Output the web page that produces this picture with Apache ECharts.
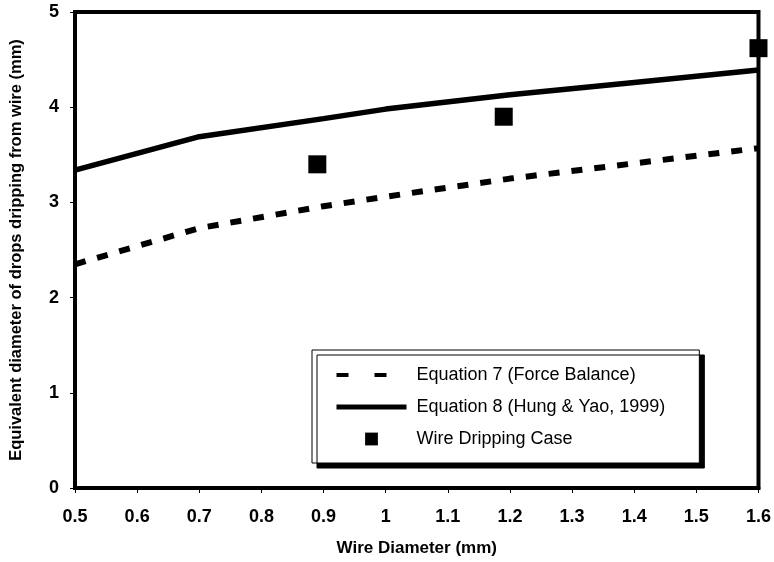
<!DOCTYPE html>
<html>
<head>
<meta charset="utf-8">
<script src="https://cdn.jsdelivr.net/npm/echarts@6/dist/echarts.min.js"></script>
<style>
  html, body { margin: 0; padding: 0; background: #fff; }
  #chart { width: 774px; height: 562px; }
</style>
</head>
<body>
<div id="chart"></div>
<script>
// wire diameter (mm) where the model curves were read
const wireD = [0.5, 0.7, 0.9, 1.0, 1.2, 1.4, 1.6];
// Equation 7 (Force Balance)
const eq7 = [2.35, 2.73, 2.96, 3.06, 3.25, 3.41, 3.57];
// Equation 8 (Hung & Yao, 1999)
const eq8 = [3.34, 3.69, 3.88, 3.98, 4.13, 4.26, 4.39];
// measured drops
const caseX = [0.89, 1.19, 1.6];
const caseY = [3.40, 3.90, 4.62];

const font = "'Liberation Sans', Arial, sans-serif";

let myChart = echarts.init(document.getElementById("chart"));
let option = {
  animation: false,
  backgroundColor: "#fff",
  grid: {
    left: 73, right: 14, top: 12, bottom: 74,
    show: true, borderColor: "#000", borderWidth: 4
  },
  legend: {
    orient: "vertical",
    left: 312, top: 350,
    padding: [16, 34, 15, 22],
    itemWidth: 70, itemHeight: 16, itemGap: 14,
    backgroundColor: "#fff",
    borderColor: "#000", borderWidth: 1,
    shadowColor: "#000", shadowBlur: 0, shadowOffsetX: 5, shadowOffsetY: 5,
    textStyle: { fontFamily: font, fontSize: 18, color: "#000", padding: [0, 0, 0, 5] },
    data: [
      { name: "Equation 7 (Force Balance)", itemStyle: { opacity: 0 }, lineStyle: { type: [12, 26], width: 4 } },
      { name: "Equation 8 (Hung & Yao, 1999)", itemStyle: { opacity: 0 }, lineStyle: { width: 5 } },
      { name: "Wire Dripping Case" }
    ]
  },
  xAxis: {
    type: "value",
    min: 0.5, max: 1.6, interval: 0.1,
    name: "Wire Diameter (mm)",
    nameLocation: "middle", nameGap: 52,
    nameTextStyle: { fontFamily: font, fontSize: 17, fontWeight: "bold", color: "#000" },
    axisLine: { lineStyle: { color: "#000", width: 4 } },
    axisTick: { show: true, length: 5, lineStyle: { color: "#000", width: 1 } },
    axisLabel: { fontFamily: font, fontSize: 18, fontWeight: "bold", color: "#000", margin: 20 },
    splitLine: { show: false }
  },
  yAxis: {
    type: "value",
    min: 0, max: 5, interval: 1,
    name: "Equivalent diameter of drops dripping from wire (mm)",
    nameLocation: "middle", nameGap: 50,
    nameTextStyle: { fontFamily: font, fontSize: 16.5, fontWeight: "bold", color: "#000" },
    axisLine: { lineStyle: { color: "#000", width: 4 } },
    axisTick: { show: true, length: 5, lineStyle: { color: "#000", width: 1 } },
    axisLabel: { fontFamily: font, fontSize: 18, fontWeight: "bold", color: "#000", margin: 16 },
    splitLine: { show: false }
  },
  series: [
    {
      name: "Equation 7 (Force Balance)",
      type: "line",
      symbol: "none",
      data: wireD.map((x, i) => [x, eq7[i]]),
      lineStyle: { color: "#000", width: 6, type: [11, 12], cap: "butt" },
      itemStyle: { color: "#000" },
      z: 3
    },
    {
      name: "Equation 8 (Hung & Yao, 1999)",
      type: "line",
      symbol: "none",
      data: wireD.map((x, i) => [x, eq8[i]]),
      lineStyle: { color: "#000", width: 5.5 },
      itemStyle: { color: "#000" },
      z: 3
    },
    {
      name: "Wire Dripping Case",
      type: "line",
      symbol: "rect",
      symbolSize: 18,
      showAllSymbol: true,
      data: caseX.map((x, i) => [x, caseY[i]]),
      lineStyle: { width: 0, opacity: 0 },
      itemStyle: { color: "#000" },
      z: 5
    }
  ]
};
myChart.setOption(option);
</script>
</body>
</html>
